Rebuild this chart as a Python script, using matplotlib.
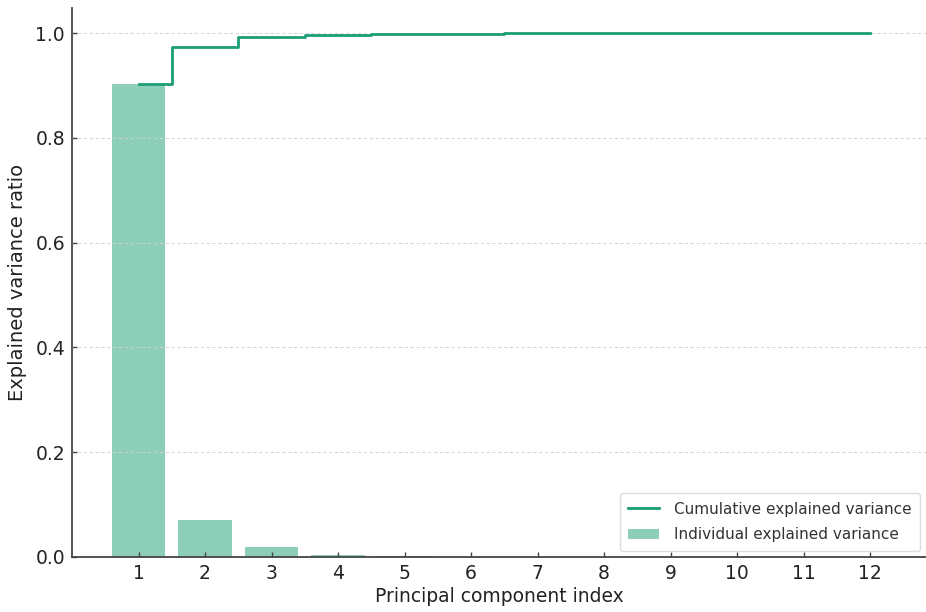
import matplotlib
matplotlib.use("Agg")
import matplotlib.pyplot as plt
import numpy as np

components = [1, 2, 3, 4, 5, 6, 7, 8, 9, 10, 11, 12]
individual = [0.903, 0.071, 0.019, 0.004, 0.0015, 0.0008, 0.0005, 0.0003, 0.0002, 0.0001, 0.0001, 0.0001]
cumulative = [0.903, 0.974, 0.993, 0.997, 0.9985, 0.9993, 0.9996, 0.9999, 1.0, 1.0, 1.0, 1.0]

green = "#1b9e77"

fig = plt.figure(figsize=(9.26, 6.12), dpi=100)
ax = fig.add_axes([72/926, 1 - 557/612, (926 - 72)/926, (557 - 8)/612])

ax.bar(components, individual, width=0.8, color=green, alpha=0.5, align="center",
       label="Individual explained variance", zorder=2)
ax.step(components, cumulative, where="mid", color=green, linewidth=2,
        label="Cumulative explained variance", zorder=3)

ax.set_xlim(0.0, 12.84)
ax.set_ylim(0, 1.048)
ax.set_xticks(components)
ax.set_yticks([0.0, 0.2, 0.4, 0.6, 0.8, 1.0])
ax.set_yticklabels(["0.0", "0.2", "0.4", "0.6", "0.8", "1.0"])
ax.tick_params(axis="both", direction="in", labelsize=13.5, colors="#444444",
               length=3.5, width=1, pad=5, labelcolor="#222222")
ax.yaxis.grid(True, linestyle=(0, (3, 3)), color="#d0d0d0", linewidth=0.7, zorder=0)
ax.set_axisbelow(False)
for s in ["top", "right"]:
    ax.spines[s].set_visible(False)
for s in ["left", "bottom"]:
    ax.spines[s].set_color("#444444")
    ax.spines[s].set_linewidth(1.3)

ax.set_xlabel("Principal component index", fontsize=13.5, color="#222222", labelpad=3)
ax.set_ylabel("Explained variance ratio", fontsize=14, color="#222222", labelpad=6)

ax.legend(loc="lower right", fontsize=11, frameon=True, framealpha=1,
          edgecolor="#dddddd", labelcolor="#333333", labelspacing=0.7,
          borderpad=0.55, borderaxespad=0.4, handletextpad=1.0)

fig.savefig("out.png", dpi=100)
